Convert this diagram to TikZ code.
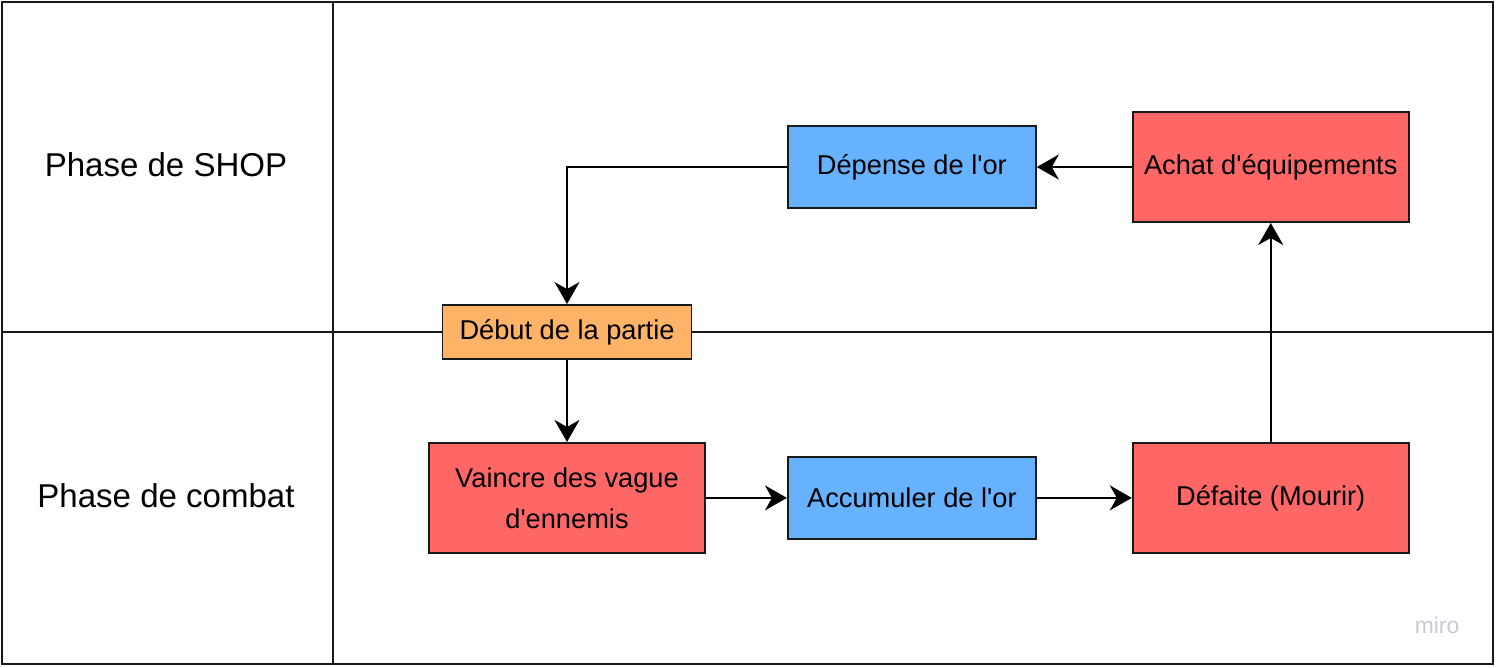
\documentclass[tikz,border=0pt]{standalone}
\usepackage{fontspec}
\setmainfont{Liberation Sans}
\usepackage{xcolor}
\usepackage{tikz}
\usetikzlibrary{arrows.meta}
\usetikzlibrary{positioning}

\definecolor{orangebox}{HTML}{FFB366}
\definecolor{redbox}{HTML}{FF6666}
\definecolor{bluebox}{HTML}{66B2FF}
\definecolor{mirogray}{HTML}{C9C9D9}

\tikzset{
  etape/.style={draw=black!90, line width=1.1pt, rectangle, align=center,
    inner sep=0pt, font=\fontsize{15.5}{23.3}\selectfont},
  debutbox/.style={etape, fill=orangebox, minimum width=4.98cm, minimum height=1.08cm},
  rougebox/.style={etape, fill=redbox, minimum width=5.52cm, minimum height=2.2cm},
  bleubox/.style={etape, fill=bluebox, minimum width=4.96cm, minimum height=1.64cm},
  fleche/.style={-{Stealth[length=0.44cm, width=0.5cm, inset=0.14cm]}, line width=1.1pt},
  phase/.style={font=\fontsize{18.8}{22}\selectfont}
}

\begin{document}
\begin{tikzpicture}[x=0.02cm, y=-0.02cm]
  \useasboundingbox (0,0) rectangle (1496,668);
  % cadre et couloirs
  \draw[line width=1.1pt, black!90] (2,2) rectangle (1493,664);
  \draw[line width=1.1pt, black!90] (333,2) -- (333,664);
  \draw[line width=1.1pt, black!90] (2,332) -- (1493,332);

  \node[phase] (shop) at (166,165) {Phase de SHOP};
  \node[phase] (combat) at (166,496) {Phase de combat};

  % etapes
  \node[debutbox] (debut) at (567,332) {Début de la partie};
  \node[rougebox] (vaincre) [below=1.64cm of debut] {Vaincre des vague\\d\textquotesingle ennemis};
  \node[bleubox] (accumuler) [right=1.62cm of vaincre] {Accumuler de l\textquotesingle or};
  \node[rougebox] (defaite) [right=1.90cm of accumuler] {Défaite (Mourir)};
  \node[rougebox] (achat) [above=4.38cm of defaite] {Achat d\textquotesingle équipements};
  \node[bleubox] (depense) [left=1.90cm of achat] {Dépense de l\textquotesingle or};

  \path[fleche]
    (debut) edge (vaincre)
    (vaincre) edge (accumuler)
    (accumuler) edge (defaite)
    (defaite) edge (achat)
    (achat) edge (depense);
  \draw[fleche] (depense.west) -| (debut.north);

  \node[text=mirogray, font=\fontsize{13}{15}\selectfont] (miro) at (1437,625) {miro};
\end{tikzpicture}
\end{document}
